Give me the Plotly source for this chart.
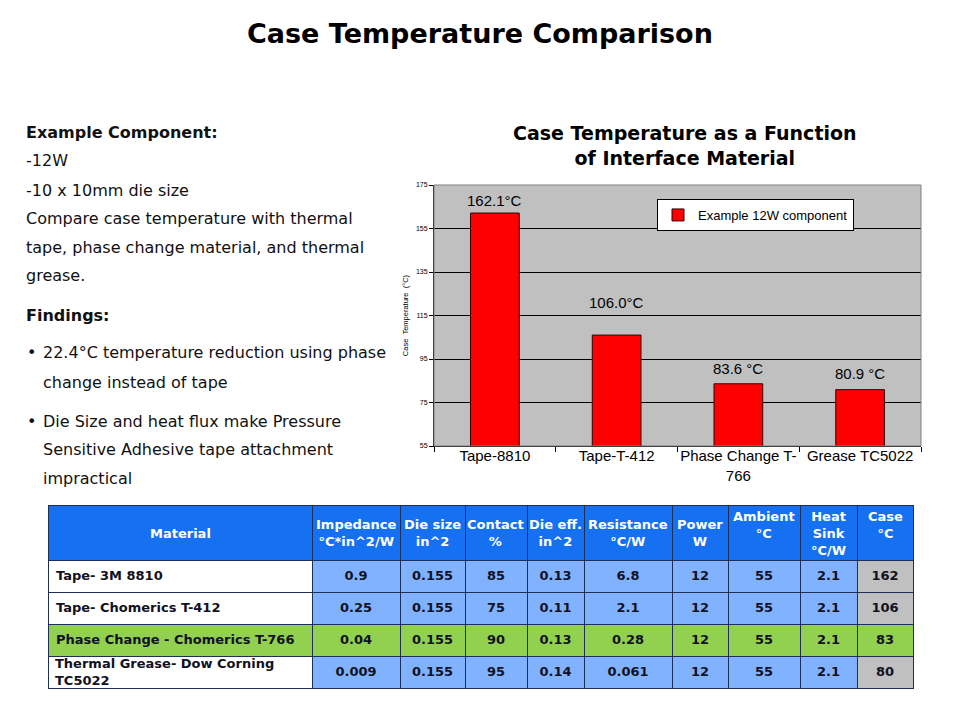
import plotly.graph_objects as go

# %% chart data
bar_cats = ["Tape-8810", "Tape-T-412", "Phase Change T-<br>766", "Grease TC5022"]
case_temps = [162.1, 106.0, 83.6, 80.9]
temp_labels = ["162.1°C", "106.0°C", "83.6 °C", "80.9 °C"]
label_shift = [13, 33, 15, 16]

# %% table data
materials = ["Tape- 3M 8810", "Tape- Chomerics T-412", "Phase Change - Chomerics T-766",
             "Thermal Grease- Dow Corning<br>TC5022"]
impedance = ["0.9", "0.25", "0.04", "0.009"]
die_size = ["0.155", "0.155", "0.155", "0.155"]
contact = [85, 75, 90, 95]
die_eff = ["0.13", "0.11", "0.13", "0.14"]
resistance = ["6.8", "2.1", "0.28", "0.061"]
power = [12, 12, 12, 12]
ambient = [55, 55, 55, 55]
heat_sink = ["2.1", "2.1", "2.1", "2.1"]
case_col = [162, 106, 83, 80]
headers = ["Material", "Impedance<br>°C*in^2/W", "Die size<br>in^2", "Contact<br>%", "Die eff.<br>in^2",
           "Resistance<br>°C/W", "Power<br>W", "Ambient<br>°C", "Heat<br>Sink<br>°C/W", "Case<br>°C"]
col_widths = [264, 88, 65, 62, 57, 88, 56, 72, 57, 56]

# page is drawn with an 8px body margin, so work in slide pixels and convert
OFF = 8
W, H = 960 - 2 * OFF, 720 - 2 * OFF


def py(p):
    return 1 - (p - OFF) / H


def px(p):
    return (p - OFF) / W


fig = go.Figure()

fig.add_trace(go.Bar(
    x=bar_cats, y=case_temps, name="Example 12W component",
    marker=dict(color="#FF0000", line=dict(color="#300000", width=1)),
    xaxis="x", yaxis="y",
))

# table
TBL_X, TBL_TOP, HEAD_H, ROW_H = 48, 505, 55, 32
blue, green, grey = "#80B2FF", "#92D050", "#C0C0C0"
row_fill = [blue, blue, green, blue]
# two-line names would stretch their row, so they are written over the cell instead
mat_cells = ["" if "<br>" in m else m for m in materials]
cols = [mat_cells, impedance, die_size, contact, die_eff, resistance, power, ambient, heat_sink, case_col]
fills = [["white", "white", green, "white"]] + [row_fill] * 8 + [[grey, grey, green, grey]]
fig.add_trace(go.Table(
    domain=dict(x=[px(TBL_X), px(TBL_X + sum(col_widths))], y=[py(712), py(TBL_TOP)]),
    columnwidth=col_widths,
    header=dict(
        values=[""] * len(headers),
        fill_color="#1570F2", line=dict(color="#1d2f55", width=1),
        height=HEAD_H,
    ),
    cells=dict(
        values=[["<b>%s</b>" % v if v != "" else "" for v in c] for c in cols],
        fill_color=fills, line=dict(color="#1d2f55", width=1),
        font=dict(family="DejaVu Sans", size=13, color="#111122"),
        align=["left"] + ["center"] * 9, height=ROW_H,
    ),
))

for i, m in enumerate(materials):
    if "<br>" in m:
        fig.add_annotation(x=px(TBL_X + 5), y=py(TBL_TOP + HEAD_H + ROW_H * i + ROW_H / 2),
                           xref="paper", yref="paper", showarrow=False, text="<b>%s</b>" % m,
                           xanchor="left", yanchor="middle", align="left",
                           font=dict(family="DejaVu Sans", size=13, color="#111122"))

# header text, centred on each column
edge = TBL_X
for h, w in zip(headers, col_widths):
    mid = 525 if h in ("Ambient<br>°C", "Case<br>°C") else 533
    fig.add_annotation(x=px(edge + w / 2), y=py(mid), xref="paper", yref="paper", showarrow=False,
                       text="<b>%s</b>" % h, align="center", xanchor="center", yanchor="middle",
                       font=dict(family="DejaVu Sans", size=13, color="white"))
    edge += w

for cat, v, t, s in zip(bar_cats, case_temps, temp_labels, label_shift):
    fig.add_annotation(x=cat, y=v, text=t, showarrow=False, yshift=s, xref="x", yref="y",
                       font=dict(family="Liberation Sans, Arial", size=15, color="black"))

# slide text
left_lines = [
    ("<b>Example Component:</b>", 24, 133),
    ("-12W", 24, 161),
    ("-10 x 10mm die size", 24, 190),
    ("Compare case temperature with thermal", 24, 218),
    ("tape, phase change material, and thermal", 24, 247),
    ("grease.", 24, 276),
    ("<b>Findings:</b>", 24, 315),
    ("•", 25, 353),
    ("22.4°C temperature reduction using phase", 41, 353),
    ("change instead of tape", 41, 382),
    ("•", 25, 421),
    ("Die Size and heat flux make Pressure", 41, 421),
    ("Sensitive Adhesive tape attachment", 41, 449),
    ("impractical", 41, 478),
]
for t, x0, y0 in left_lines:
    fig.add_annotation(x=px(x0), y=py(y0), xref="paper", yref="paper", text=t, showarrow=False,
                       xanchor="left", yanchor="middle",
                       font=dict(family="DejaVu Sans", size=16, color="#111111"))

fig.add_annotation(x=px(480), y=py(33), xref="paper", yref="paper", showarrow=False,
                   text="<b>Case Temperature Comparison</b>", xanchor="center", yanchor="middle",
                   font=dict(family="DejaVu Sans", size=27, color="black"))
fig.add_annotation(x=px(685), y=py(145), xref="paper", yref="paper", showarrow=False,
                   text="<b>Case Temperature as a Function<br>of Interface Material</b>",
                   xanchor="center", yanchor="middle",
                   font=dict(family="DejaVu Sans", size=19, color="black"))

# plot frame
fig.add_shape(type="rect", xref="x domain", yref="y domain", x0=0, x1=1, y0=0, y1=1,
              line=dict(color="#808080", width=1), layer="above")

fig.update_layout(
    width=W, height=H, margin=dict(l=0, r=0, t=0, b=0),
    paper_bgcolor="white", plot_bgcolor="#C0C0C0",
    bargap=0.6, showlegend=True,
    legend=dict(x=px(657), y=py(199), xanchor="left", yanchor="top", bgcolor="white",
                bordercolor="black", borderwidth=1,
                font=dict(family="Liberation Sans, Arial", size=13, color="black")),
    xaxis=dict(domain=[px(434), px(921)], anchor="y", showline=True, linecolor="black",
               ticks="outside", tickson="boundaries", ticklen=5, tickcolor="black",
               tickangle=0, automargin=False, ticklabelstandoff=-4,
               tickfont=dict(family="Liberation Sans, Arial", size=15, color="black")),
    yaxis=dict(domain=[py(446), py(185)], anchor="x", range=[55, 175], tick0=55, dtick=20,
               showgrid=True, gridcolor="black", gridwidth=1, showline=True, linecolor="black",
               ticks="outside", ticklen=4, tickcolor="black", zeroline=False, automargin=False,
               tickfont=dict(family="Liberation Sans, Arial", size=7, color="black"),
               title=dict(text="Case  Temperature  (°C)", standoff=6,
                          font=dict(family="Liberation Sans, Arial", size=7.5, color="black"))),
)

fig.write_html("out.html")
